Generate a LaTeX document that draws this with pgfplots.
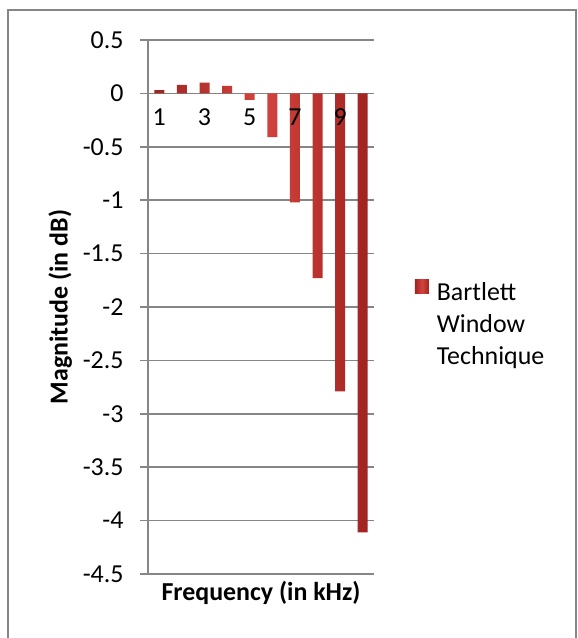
\documentclass[border=0pt]{standalone}
\usepackage{fontspec}
\setmainfont{Carlito}
\usepackage{pgfplots}
\pgfplotsset{compat=1.18}
\definecolor{axgray}{RGB}{134,134,134}
\definecolor{barmid}{RGB}{212,68,62}
\definecolor{baredge}{RGB}{160,36,33}
\pgfplotsset{
  myframe/.style={
    at={(148bp,64bp)}, anchor=south west,
    scale only axis, width=226bp, height=534bp,
    xmin=0.5, xmax=10.5, ymin=-4.5, ymax=0.5,
    axis x line*=middle, axis y line*=left,
    hide obscured y ticks=false, hide obscured x ticks=false,
    tick label style={font=\fontsize{26}{31}\selectfont},
    clip=false,
  },
}
\begin{document}
\begin{tikzpicture}[x=1bp,y=1bp]
\useasboundingbox (0,0) rectangle (578,638);
\fill[white] (0,0) rectangle (578,638);
\draw[axgray, line width=2bp] (8,-10) rectangle (576,628);
\begin{axis}[
  myframe,
  axis line style={axgray, line width=1.5bp},
  xtick={1,3,5,7,9}, xticklabels={},
  ytick={-4.5,-4,-3.5,-3,-2.5,-2,-1.5,-1,-0.5,0,0.5},
  yticklabels={-4.5,-4,-3.5,-3,-2.5,-2,-1.5,-1,-0.5,0,0.5},
  tick align=outside, major tick length=8bp,
  major tick style={axgray, line width=1.5bp},
  major x tick style={draw=none},
  ymajorgrids, major grid style={axgray, line width=1.5bp},
  yticklabel style={anchor=east, xshift=-13bp},
  label style={font=\bfseries\fontsize{26}{31}\selectfont},
  xlabel={Frequency (in kHz)},
  ylabel={Magnitude (in dB)},
  x label style={at={(axis description cs:0.5,0)}, anchor=center, yshift=-19bp},
  y label style={at={(axis description cs:-0.389,0.5)}, anchor=center},
  ybar, bar width=10bp,
  legend style={draw=none, fill=none, at={(axis description cs:1.18,0.552)}, anchor=north west,
    inner sep=0pt, column sep=6bp, font=\fontsize{26}{32}\selectfont},
  legend cell align=left,
  legend image code/.code={\shade[left color=baredge, right color=baredge, middle color=barmid] (0bp,-1bp) rectangle (14bp,13bp);},
]
\addplot[draw=none, left color=baredge, right color=baredge, middle color=barmid]
  coordinates {(1,0.03) (2,0.08) (3,0.10) (4,0.07) (5,-0.06) (6,-0.41) (7,-1.02) (8,-1.73) (9,-2.79) (10,-4.11)};
\addlegendentry{\parbox[t]{118bp}{\raggedright\fontsize{26}{32}\selectfont Bartlett Window Technique}}
\end{axis}
\begin{axis}[
  myframe,
  axis line style={draw=none},
  xtick={1,3,5,7,9}, xticklabels={1,3,5,7,9},
  ytick=\empty,
  major x tick style={draw=none},
  xticklabel style={anchor=north, yshift=-12bp},
]
\end{axis}
\end{tikzpicture}
\end{document}
